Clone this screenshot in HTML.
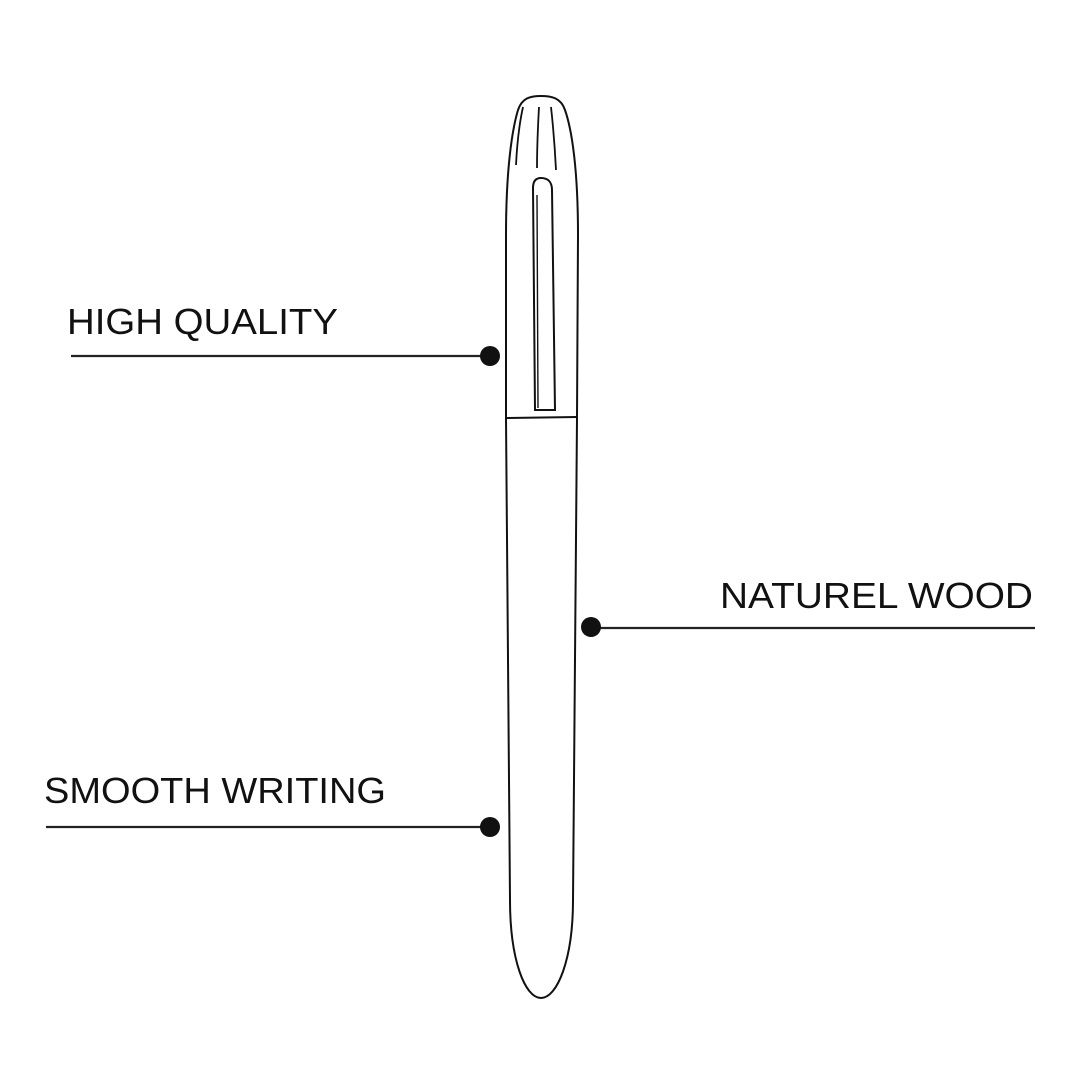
<!DOCTYPE html>
<html><head><meta charset="utf-8"><style>html,body{margin:0;padding:0;background:#fff}svg{display:block}</style></head>
<body>
<svg width="1080" height="1080" viewBox="0 0 1080 1080" xmlns="http://www.w3.org/2000/svg">
<rect width="1080" height="1080" fill="#fff"/>
<g fill="none" stroke="#111" stroke-width="2">
  <path d="M506,418 L506,235 C506,170 512,130 518,110 C522,98 530,96 541,96 C552,96 561,98 565,110 C572,130 578,170 578,235 L577,418"/>
  <path d="M506,418 L577,417"/>
  <path d="M523,107 C519,125 517,145 516,165" stroke-width="1.8"/>
  <path d="M539,107 C538,125 537,150 537,168" stroke-width="1.8"/>
  <path d="M551,107 C553,125 555,150 556,170" stroke-width="1.8"/>
  <path d="M535,410 L533,188 C533,180 537,178 541,178 C548,178 552,182 552,190 L555,410 Z"/>
  <path d="M537,195 L538,408" stroke-width="1.4"/>
  <path d="M506,418 L510,900 C510,960 525,998 541,998 C557,998 573,960 573,900 L577,418"/>
</g>
<g stroke="#222" stroke-width="2.2">
  <line x1="71" y1="356" x2="490" y2="356"/>
  <line x1="591" y1="628" x2="1035" y2="628"/>
  <line x1="46" y1="827" x2="490" y2="827"/>
</g>
<g fill="#111">
  <circle cx="490" cy="356" r="10"/>
  <circle cx="591" cy="627" r="10"/>
  <circle cx="490" cy="827" r="10"/>
</g>
<g font-family="Liberation Sans, sans-serif" font-size="36" fill="#111">
  <text x="67" y="334" textLength="271" lengthAdjust="spacingAndGlyphs">HIGH QUALITY</text>
  <text x="720" y="608" textLength="313" lengthAdjust="spacingAndGlyphs">NATUREL WOOD</text>
  <text x="44" y="803" textLength="342" lengthAdjust="spacingAndGlyphs">SMOOTH WRITING</text>
</g>
</svg>
</body></html>
